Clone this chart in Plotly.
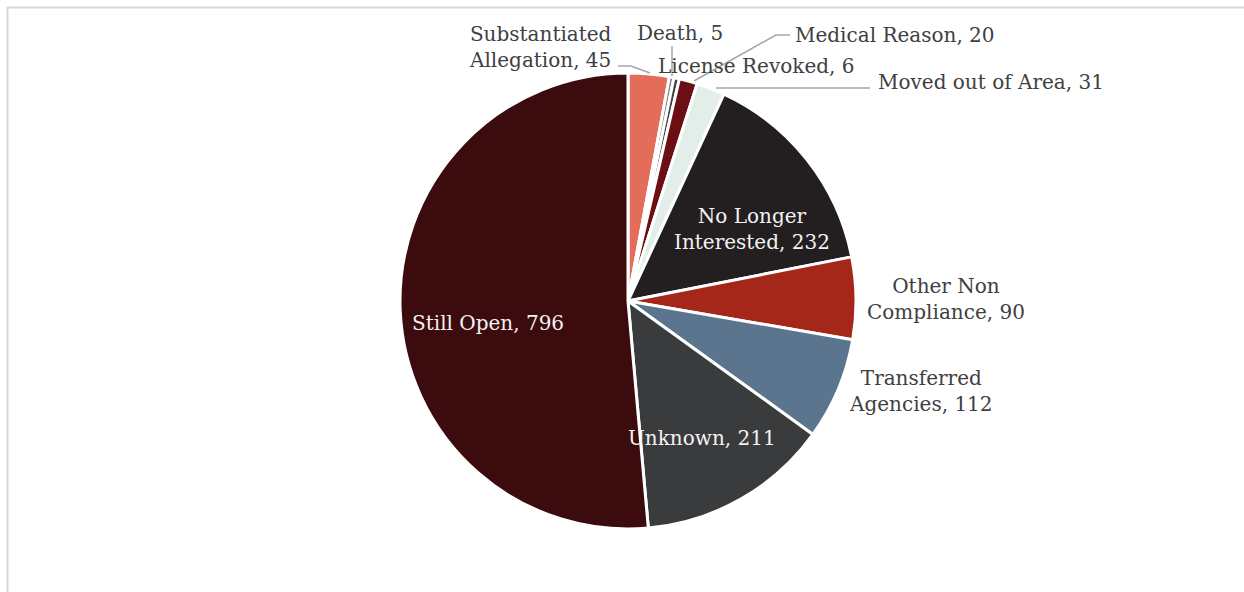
import plotly.graph_objects as go

W, H = 1244, 592

# Case outcomes, listed clockwise from 12 o'clock
categories = [
    "Substantiated Allegation", "Death", "License Revoked", "Medical Reason",
    "Moved out of Area", "No Longer Interested", "Other Non Compliance",
    "Transferred Agencies", "Unknown", "Still Open",
]
counts = [45, 5, 6, 20, 31, 232, 90, 112, 211, 796]

slice_colors = [
    "#E46C5A", "#7F7F7F", "#404040", "#6B0F14", "#E2EFE9",
    "#231F20", "#A4271A", "#5C758E", "#3A3B3D", "#3B0B0E",
]

# label layout: (text with line breaks, centre x px, centre y px, colour)
label_layout = {
    "Substantiated Allegation": ("Substantiated<br>Allegation, {v}", 540, 47, "#404040"),
    "Death": ("Death, {v}", 680, 33, "#404040"),
    "License Revoked": ("License Revoked, {v}", 756, 66, "#404040"),
    "Medical Reason": ("Medical Reason, {v}", 895, 35, "#404040"),
    "Moved out of Area": ("Moved out of Area, {v}", 991, 82, "#404040"),
    "No Longer Interested": ("No Longer<br>Interested, {v}", 752, 229, "#F2F2F2"),
    "Other Non Compliance": ("Other Non<br>Compliance, {v}", 946, 299, "#404040"),
    "Transferred Agencies": ("Transferred<br>Agencies, {v}", 921, 391, "#404040"),
    "Unknown": ("Unknown, {v}", 702, 438, "#F2F2F2"),
    "Still Open": ("Still Open, {v}", 488, 323, "#F2F2F2"),
}

# leader lines in pixel coordinates
leaders = [
    [(618, 66), (631, 66), (650, 73)],
    [(672, 46), (672, 76)],
    [(790, 35), (776, 35), (694, 81)],
    [(870, 88), (716, 88)],
]

cx, cy, r = 628, 301, 228
FONT = "DejaVu Serif"


def px(x):
    return x / W


def py(y):
    return 1 - y / H


fig = go.Figure(
    go.Pie(
        labels=categories,
        values=counts,
        sort=False,
        direction="clockwise",
        rotation=0,
        marker=dict(colors=slice_colors, line=dict(color="white", width=3)),
        textinfo="none",
        hoverinfo="label+value",
        showlegend=False,
        domain=dict(x=[px(cx - r), px(cx + r)], y=[py(cy + r), py(cy - r)]),
    )
)

annotations = []
for name, val in zip(categories, counts):
    text, x, y, col = label_layout[name]
    annotations.append(
        dict(
            x=px(x), y=py(y), xref="paper", yref="paper",
            text=text.format(v=val), showarrow=False,
            xanchor="center", yanchor="middle", align="center",
            font=dict(family=FONT, size=20, color=col),
        )
    )

shapes = []
for pts in leaders:
    path = "M " + " L ".join(f"{px(x)},{py(y)}" for x, y in pts)
    shapes.append(
        dict(type="path", xref="paper", yref="paper", path=path,
             line=dict(color="#A6A6A6", width=1.5))
    )

# chart-area frame
shapes.append(
    dict(type="rect", xref="paper", yref="paper",
         x0=px(7.5), y0=-0.05, x1=1.05, y1=py(7.5),
         line=dict(color="#D9D9D9", width=2), fillcolor="rgba(0,0,0,0)")
)

fig.update_layout(
    width=W, height=H,
    margin=dict(l=0, r=0, t=0, b=0),
    paper_bgcolor="white", plot_bgcolor="white",
    annotations=annotations, shapes=shapes,
)

fig.write_html("out.html")
